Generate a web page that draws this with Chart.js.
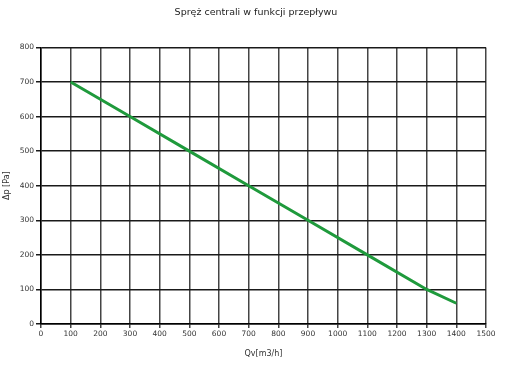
<!DOCTYPE html>
<html>
<head>
<meta charset="utf-8">
<script src="https://cdn.jsdelivr.net/npm/chart.js@4"></script>
<style>
  html, body { margin: 0; padding: 0; background: #fff; }
  #wrap { width: 512px; height: 381px; }
</style>
</head>
<body>
<div id="wrap"><canvas id="sprezChart"></canvas></div>
<script>
// Dane
const przeplyw = [100, 300, 500, 700, 900, 1100, 1300, 1400]; // Qv [m3/h]
const spraz = [700, 600, 500, 400, 300, 200, 100, 60];         // Δp [Pa]
const tytul = 'Spręż centrali w funkcji przepływu';
const osX = 'Qv[m3/h]';
const osY = 'Δp [Pa]';

const punkty = przeplyw.map((q, i) => ({ x: q, y: spraz[i] }));

const fontTekst = 'DejaVu Sans';

const ctx = document.getElementById('sprezChart').getContext('2d');

new Chart(ctx, {
    type: 'line',
    data: {
        datasets: [{
            data: punkty,
            borderColor: '#1f9a3c',
            borderWidth: 3,
            pointRadius: 0,
            tension: 0,
            fill: false
        }]
    },
    options: {
        responsive: true,
        maintainAspectRatio: false,
        animation: false,
        layout: { padding: 0 },
        plugins: {
            legend: { display: false },
            tooltip: { enabled: false },
            title: {
                display: true,
                text: tytul,
                color: '#222',
                font: { family: fontTekst, size: 9.5, weight: 'normal' },
                padding: { top: 7, bottom: 29 }
            }
        },
        scales: {
            x: {
                type: 'linear',
                min: 0,
                max: 1500,
                ticks: {
                    stepSize: 100,
                    color: '#333',
                    font: { family: fontTekst, size: 7.5 },
                    padding: 2,
                    maxRotation: 0,
                    autoSkip: false,
                    callback: v => String(v)
                },
                grid: { color: '#444', lineWidth: 1.5, tickLength: 4 },
                border: { color: '#000', width: 1.5 },
                title: {
                    display: true,
                    text: osX,
                    color: '#333',
                    font: { family: fontTekst, size: 8 },
                    padding: { top: 0, bottom: 22 }
                },
                afterFit: s => { s.height = 57; }
            },
            y: {
                min: 0,
                max: 800,
                ticks: {
                    stepSize: 100,
                    color: '#333',
                    font: { family: fontTekst, size: 7.5 },
                    padding: 2,
                    callback: v => String(v)
                },
                grid: { color: '#1a1a1a', lineWidth: 1.5, tickLength: 5 },
                border: { color: '#000', width: 1.5 },
                title: {
                    display: true,
                    text: osY,
                    color: '#333',
                    font: { family: fontTekst, size: 8 },
                    padding: { top: 2, bottom: 0 }
                },
                afterFit: s => { s.width = 41; }
            },
            // pusty margines z prawej, żeby tytuł był wyśrodkowany na całej szerokości
            prawy: {
                position: 'right',
                min: 0,
                max: 800,
                grid: { display: false },
                border: { display: false },
                ticks: { display: false },
                afterFit: s => { s.width = 26; }
            }
        }
    }
});
</script>
</body>
</html>
